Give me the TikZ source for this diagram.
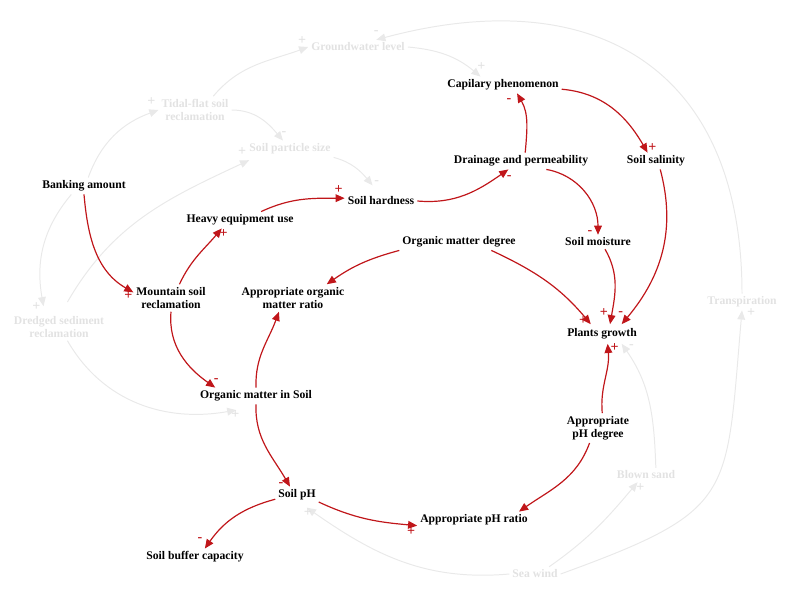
\documentclass[tikz,border=0pt]{standalone}
\usepackage{fontspec}
\setmainfont{Liberation Serif}
\definecolor{LoopRed}{RGB}{192,22,26}
\definecolor{FadeGray}{RGB}{233,233,233}
\definecolor{FadeText}{RGB}{226,226,226}
\usetikzlibrary{
    arrows.meta,
}
\tikzset{
    factor/.style={font=\fontsize{8.3}{9.3}\selectfont\bfseries, align=center, inner sep=2pt, text=black},
    faded/.style={factor, text=FadeText},
    link/.style={draw=LoopRed, line width=0.85pt, -{Triangle[length=6.5pt,width=5.5pt]}},
    ghost/.style={draw=FadeGray, line width=0.7pt, -{Triangle[length=6.5pt,width=5.5pt]}},
    sgn/.style={font=\fontsize{10}{10}\selectfont\bfseries, text=LoopRed, inner sep=0pt, pos=1},
    gsgn/.style={sgn, text=FadeText},
}

\begin{document}
\begin{tikzpicture}[x=0.025cm, y=-0.025cm]
    \useasboundingbox (0,0) rectangle (800,609);

    % faded factors
    \node[faded] (ground) at (358,47) {Groundwater level};
    \node[faded] (tidal) at (195,110) {Tidal-flat soil\\reclamation};
    \node[faded] (particle) at (290,149) {Soil particle size};
    \node[faded] (dredged) at (59,327) {Dredged sediment\\reclamation};
    \node[faded] (transp) at (742,302) {Transpiration};
    \node[faded] (blown) at (646,475) {Blown sand};
    \node[faded] (seawind) at (535,574) {Sea wind};

    % main factors
    \node[factor] (bank) at (84,186) {Banking amount};
    \node[factor] (capil) at (503,85) {Capilary phenomenon};
    \node[factor] (drain) at (521,161) {Drainage and permeability};
    \node[factor] (salin) at (656,161) {Soil salinity};
    \node[factor] (hard) at (381,201) {Soil hardness};
    \node[factor] (heavy) at (240,220) {Heavy equipment use};
    \node[factor] (omdeg) at (459,242) {Organic matter degree};
    \node[factor] (moist) at (598,242) {Soil moisture};
    \node[factor] (mount) at (171,298) {Mountain soil\\reclamation};
    \node[factor] (aomr) at (293,298) {Appropriate organic\\matter ratio};
    \node[factor] (plants) at (602,334) {Plants growth};
    \node[factor] (omsoil) at (256,396) {Organic matter in Soil};
    \node[factor] (aphdeg) at (598,428) {Appropriate\\pH degree};
    \node[factor] (soilph) at (297,495) {Soil pH};
    \node[factor] (aphr) at (474,520) {Appropriate pH ratio};
    \node[factor] (buffer) at (195,557) {Soil buffer capacity};

    % faded links
    \draw[ghost] ([xshift=3pt]bank.north) to[out=70, in=200] node[gsgn, xshift=-5pt, yshift=5.7pt] {+} (tidal.west);
    \draw[ghost] ([xshift=13pt]tidal.north) to[out=50, in=200] node[gsgn, xshift=-4.3pt, yshift=4.3pt] {+} (ground.west);
    \draw[ghost] (tidal.east) to[out=0, in=130] node[gsgn, xshift=0.7pt, yshift=5pt] {-} ([xshift=-5pt]particle.north);
    \draw[ghost] (particle.south east) to[out=-15, in=130] node[gsgn, xshift=3pt, yshift=2pt] {-} ([xshift=-6pt,yshift=6pt]hard.north);
    \draw[ghost] (ground.east) to[out=-5, in=140] node[gsgn, xshift=0.7pt, yshift=7pt] {+} ([xshift=-16pt]capil.north);
    \draw[ghost] (transp.north) to[out=90, in=15, looseness=1.3] node[gsgn, yshift=5pt] {-} ([xshift=13pt]ground.north);
    \draw[ghost] (seawind.east) to[out=20, in=-95, looseness=1.5] node[gsgn, xshift=6.4pt, yshift=-1.4pt] {+} (transp.south);
    \draw[ghost] ([xshift=10pt]seawind.north) to[out=35, in=-130] node[gsgn, xshift=2pt, yshift=-3.5pt] {+} ([xshift=-6pt]blown.south);
    \draw[ghost] ([xshift=7pt]blown.north) to[out=92, in=-55] node[gsgn, xshift=7pt, yshift=-2pt] {-} ([xshift=14pt,yshift=-1pt]plants.south);
    \draw[ghost] (seawind.west) to[out=185, in=-35] node[gsgn, xshift=0.7pt, yshift=-3.5pt] {+} ([xshift=7pt,yshift=-3pt]soilph.south);
    \draw[ghost] ([xshift=6pt]dredged.south) to[out=-60, in=190] node[gsgn, xshift=-0.7pt, yshift=-3.5pt] {+} ([xshift=-14pt,yshift=-4pt]omsoil.south);
    \draw[ghost] ([xshift=-9pt]bank.south) to[out=-130, in=100] node[gsgn, xshift=-5pt] {+} ([xshift=-11pt,yshift=5pt]dredged.north);
    \draw[ghost] ([xshift=6pt,yshift=8pt]dredged.north) to[out=60, in=205] node[gsgn, xshift=-5pt, yshift=6.4pt] {+} ([xshift=2pt,yshift=-2pt]particle.south west);

    % causal loop links
    \draw[link] (bank.south) to[out=-85, in=150] node[sgn, xshift=-3.5pt, yshift=-2pt] {+} ([yshift=4pt]mount.west);
    \draw[link] ([xshift=6pt]mount.north) to[out=65, in=-130] node[sgn, xshift=1.4pt, yshift=-3.5pt] {+} ([xshift=-13pt]heavy.south);
    \draw[link] ([xshift=15pt]heavy.north) to[out=25, in=180] node[sgn, xshift=-4.3pt, yshift=6.4pt] {+} ([yshift=2pt]hard.west);
    \draw[link] (hard.east) to[out=-5, in=-145] node[sgn, xshift=0.7pt, yshift=-5.7pt] {-} ([xshift=-9pt]drain.south);
    \draw[link] ([xshift=3pt]drain.north) to[out=85, in=-60] node[sgn, xshift=-5.7pt, yshift=-5pt] {-} ([xshift=10pt]capil.south);
    \draw[link] ([yshift=-3pt]capil.east) to[out=-5, in=120] node[sgn, xshift=3.5pt, yshift=3.5pt] {+} ([xshift=-6pt]salin.north);
    \draw[link] ([xshift=18pt]drain.south) to[out=-10, in=90] node[sgn, xshift=-5.7pt, yshift=1.4pt] {-} (moist.north);
    \draw[link] ([xshift=3pt]salin.south) to[out=-75, in=50] node[sgn, xshift=-0.7pt, yshift=7.5pt] {-} ([xshift=14pt,yshift=1pt]plants.north);
    \draw[link] ([xshift=5pt]moist.south) to[out=-60, in=80] node[sgn, xshift=-4.3pt, yshift=8pt] {+} ([xshift=5.7pt,yshift=1pt]plants.north);
    \draw[link] ([xshift=23pt]omdeg.south) to[out=-25, in=130] node[sgn, xshift=-5.5pt, yshift=2.5pt] {+} ([xshift=-8pt,yshift=1pt]plants.north);
    \draw[link] (omdeg.south west) to[out=195, in=35] ([xshift=24pt]aomr.north);
    \draw[link] (mount.south) to[out=-95, in=145] node[sgn, xshift=0.7pt, yshift=5pt] {-} ([xshift=-29pt]omsoil.north);
    \draw[link] (omsoil.north) to[out=92, in=-110] ([xshift=-10pt]aomr.south);
    \draw[link] (omsoil.south) to[out=-92, in=120] node[sgn, xshift=-6.4pt, yshift=1.4pt] {-} ([xshift=-5pt]soilph.north);
    \draw[link] ([yshift=-3pt]soilph.west) to[out=195, in=55] node[sgn, xshift=-3.5pt, yshift=6.4pt] {-} ([xshift=7pt]buffer.north);
    \draw[link] ([yshift=-5pt]soilph.east) to[out=-25, in=175] node[sgn, xshift=-4.3pt, yshift=-4.3pt] {+} ([yshift=-4pt]aphr.west);
    \draw[link] ([xshift=3pt]aphdeg.north) to[out=95, in=-85] node[sgn, xshift=5pt, yshift=-2.5pt] {+} ([xshift=4pt,yshift=-1pt]plants.south);
    \draw[link] ([xshift=-6pt]aphdeg.south) to[out=-110, in=35] ([xshift=32pt]aphr.north);
\end{tikzpicture}
\end{document}
